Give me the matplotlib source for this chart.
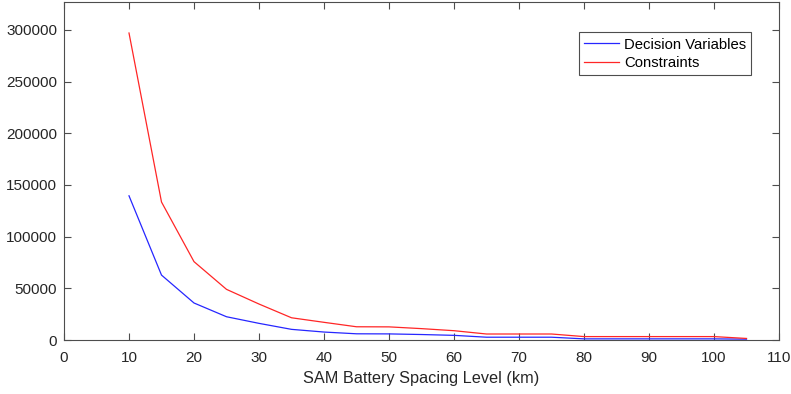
import matplotlib
matplotlib.use("Agg")
import matplotlib.pyplot as plt

spacing = [10, 15, 20, 25, 30, 35, 40, 45, 50, 55, 60, 65, 70, 75, 80, 85, 90, 95, 100, 105]
decision_vars = [139500, 62800, 35800, 22500, 16100, 10300, 7700, 6000, 5900, 5300, 4500,
                 2700, 2700, 2700, 1100, 1100, 1100, 1100, 1100, 800]
constraints = [297000, 133500, 75800, 49000, 34800, 21500, 17100, 12800, 12700, 11000, 9000,
               5800, 5800, 5800, 3300, 3300, 3300, 3300, 3300, 1500]
x_ticks = list(range(0, 111, 10))
y_ticks = list(range(0, 300001, 50000))

plt.rcParams['font.family'] = ['Liberation Sans', 'DejaVu Sans']
fig = plt.figure(figsize=(7.91, 3.94), dpi=100)
ax = fig.add_axes([64/791, 54/394, 715/791, 338/394])

ax.plot(spacing, decision_vars, color=(0.15, 0.15, 1.0), lw=0.9, label='Decision Variables')
ax.plot(spacing, constraints, color=(1.0, 0.15, 0.15), lw=0.9, label='Constraints')

ax.set_xlim(0, 110)
ax.set_ylim(0, 327000)
ax.set_xticks(x_ticks)
ax.set_yticks(y_ticks)
ax.set_yticklabels([str(v) for v in y_ticks])
axcol = '#4d4d4d'
for s in ax.spines.values():
    s.set_color(axcol)
    s.set_linewidth(0.8)
ax.tick_params(direction='in', top=True, right=True, length=5, width=0.8,
               color=axcol, labelcolor='#262626', labelsize=11)
ax.tick_params(axis='x', pad=8)
ax.tick_params(axis='y', pad=5)
ax.set_xlabel('SAM Battery Spacing Level (km)', fontsize=11.7, color='#262626', labelpad=4)

leg = ax.legend(loc='upper right', bbox_to_anchor=(0.961, 0.910), fontsize=10.7,
                frameon=True, fancybox=False, framealpha=1, edgecolor=axcol,
                handlelength=2.35, handletextpad=0.33, borderpad=0.35, labelspacing=0.3,
                borderaxespad=0)
leg.get_frame().set_linewidth(0.8)

fig.savefig('out.png', dpi=100)
